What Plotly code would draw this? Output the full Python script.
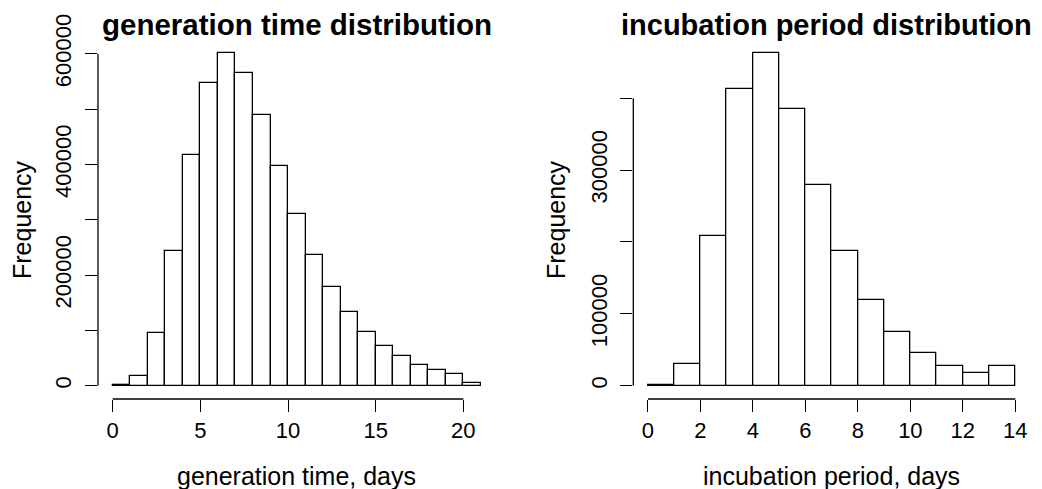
import plotly.graph_objects as go

# bins (left edges, width 1 day) and counts
gen_edges = list(range(0, 22))
gen_counts = [800, 18000, 95000, 243000, 417600, 547000, 601000, 565600, 488600,
              397700, 309900, 235900, 178100, 132400, 96300, 72200, 52900, 37900,
              28300, 20500, 4800]

inc_edges = list(range(0, 15))
inc_counts = [500, 30600, 208300, 413400, 462500, 385200, 279600, 187500, 119400,
              74100, 45800, 27800, 17100, 26900]

gen_yticks = [0, 100000, 200000, 300000, 400000, 500000, 600000]
gen_ylabels = ["0", "", "200000", "", "400000", "", "600000"]
inc_yticks = [0, 100000, 200000, 300000, 400000]
inc_ylabels = ["0", "100000", "", "300000", ""]
gen_xticks = [0, 5, 10, 15, 20]
inc_xticks = [0, 2, 4, 6, 8, 10, 12, 14]

FONT = "Liberation Sans, Arial, sans-serif"
# page body adds an 8px margin, so the figure is drawn 8px smaller and all
# screen positions below are shifted back by that amount
OFF = 8
W, H = 1042 - OFF, 489 - OFF

def px(x):
    return (x - OFF) / W

def py(y):
    return 1 - (y - OFF) / H

fig = go.Figure()

def mids(edges):
    return [(a + b) / 2 for a, b in zip(edges[:-1], edges[1:])]

fig.add_trace(go.Bar(x=mids(gen_edges), y=gen_counts, width=1,
                     marker=dict(color="white", line=dict(color="black", width=1.3)),
                     xaxis="x", yaxis="y", showlegend=False))
fig.add_trace(go.Bar(x=mids(inc_edges), y=inc_counts, width=1,
                     marker=dict(color="white", line=dict(color="black", width=1.3)),
                     xaxis="x2", yaxis="y2", showlegend=False))

# plot regions in screen pixels
L1, R1 = 98, 495.6
L2, R2 = 633.3, 1030
TOP, BOT = 40, 399
ydom = [py(BOT), py(TOP)]

ax_common = dict(showgrid=False, zeroline=False, showline=False, ticks="outside",
                 ticklen=12, tickwidth=1.3, tickcolor="black", automargin=False,
                 tickfont=dict(family=FONT, size=22, color="black"))

fig.update_layout(
    template="none",
    width=W, height=H,
    margin=dict(l=0, r=0, t=0, b=0, pad=0),
    paper_bgcolor="white", plot_bgcolor="white",
    bargap=0, showlegend=False,
    xaxis=dict(domain=[px(L1), px(R1)], range=[-0.84, 21.84], tickvals=gen_xticks,
               anchor="y", **ax_common),
    yaxis=dict(domain=ydom, range=[-24040, 625040], tickvals=gen_yticks,
               ticktext=gen_ylabels, tickangle=-90, anchor="x",
               ticklabelstandoff=5, **ax_common),
    xaxis2=dict(domain=[px(L2), min(px(R2), 1)], range=[-0.56, 14.56], tickvals=inc_xticks,
                anchor="y2", **ax_common),
    yaxis2=dict(domain=ydom, range=[-18500, 481000], tickvals=inc_yticks,
                ticktext=inc_ylabels, tickangle=-90, anchor="x2",
                ticklabelstandoff=5, **ax_common),
)

# R-style axis lines spanning first to last tick
line = dict(color="black", width=1.3)
fig.add_shape(type="line", xref="x", yref="y domain", x0=gen_xticks[0], x1=gen_xticks[-1],
              y0=0, y1=0, line=line)
fig.add_shape(type="line", xref="x domain", yref="y", x0=0, x1=0,
              y0=gen_yticks[0], y1=gen_yticks[-1], line=line)
fig.add_shape(type="line", xref="x2", yref="y2 domain", x0=inc_xticks[0], x1=inc_xticks[-1],
              y0=0, y1=0, line=line)
fig.add_shape(type="line", xref="x2 domain", yref="y2", x0=0, x1=0,
              y0=inc_yticks[0], y1=inc_yticks[-1], line=line)

def txt(x, y, s, size=25, bold=False, angle=0):
    fig.add_annotation(x=px(x), y=py(y), xref="paper", yref="paper", text=s,
                       showarrow=False, textangle=angle, xanchor="center", yanchor="middle",
                       font=dict(family=FONT, size=size, color="black",
                                 weight="bold" if bold else "normal"))

txt((L1 + R1) / 2, 25, "generation time distribution", size=29.5, bold=True)
txt(826, 25, "incubation period distribution", size=29, bold=True)
txt((L1 + R1) / 2, 476, "generation time, days")
txt((L2 + R2) / 2, 476, "incubation period, days")
txt(22, 220, "Frequency", angle=-90)
txt(556, 220, "Frequency", angle=-90)

fig.write_html("out.html")
